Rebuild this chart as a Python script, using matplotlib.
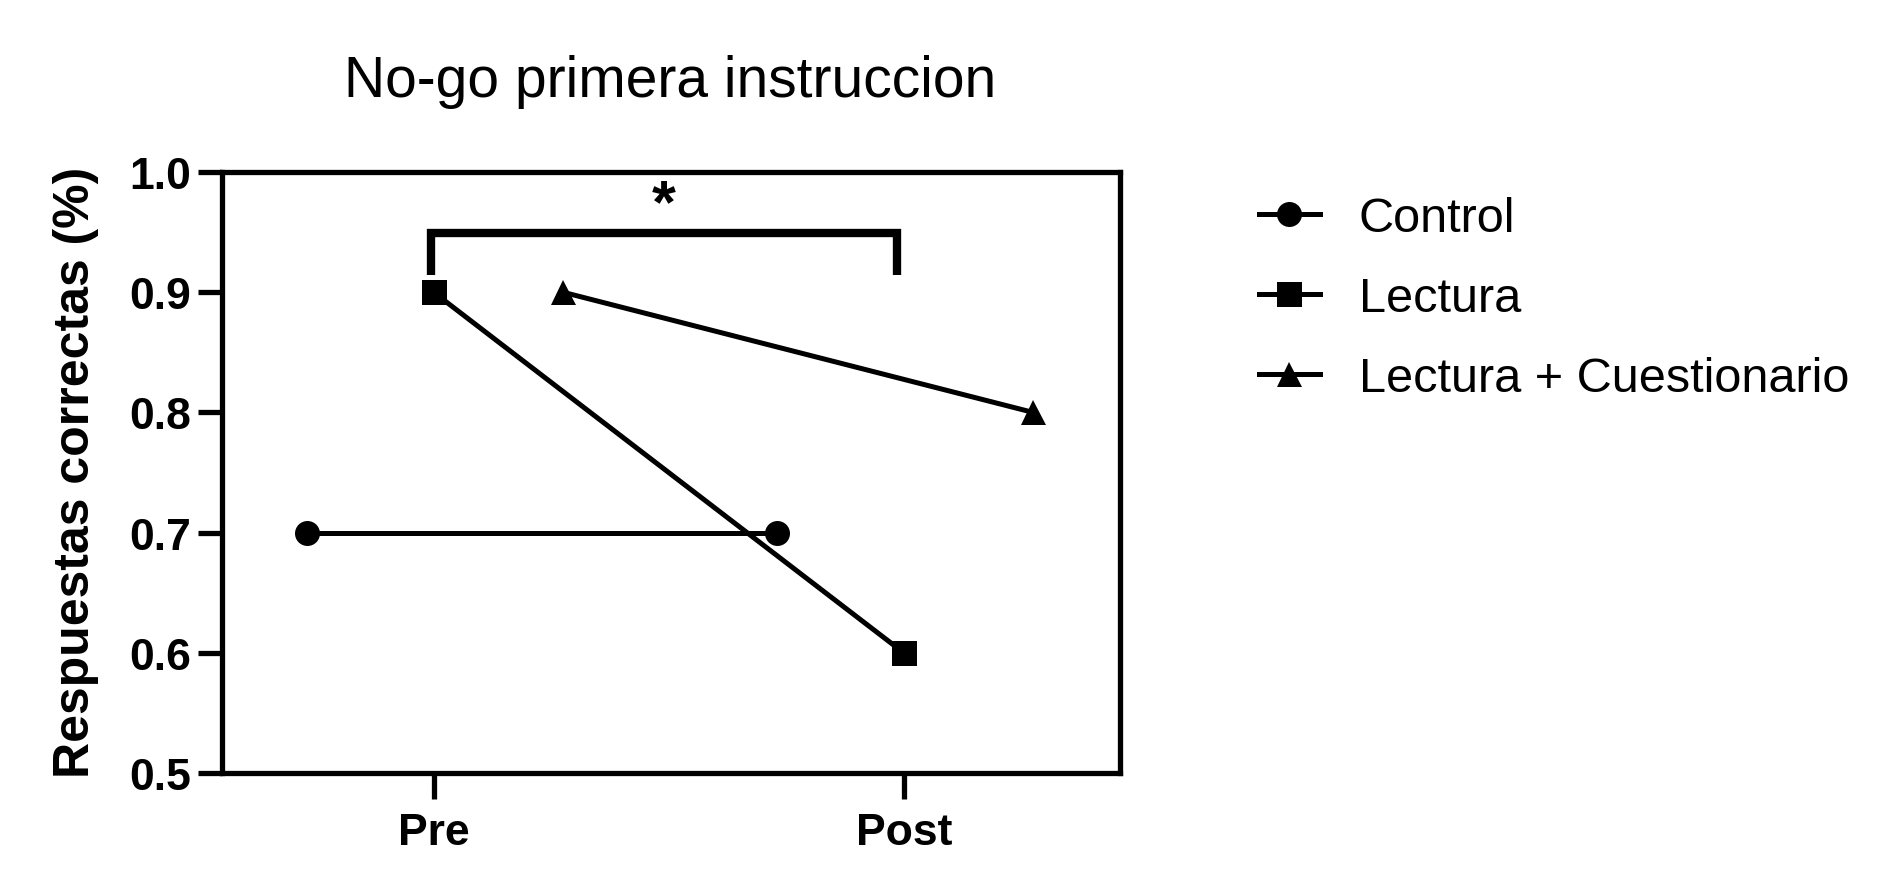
import matplotlib
matplotlib.use("Agg")
import matplotlib.pyplot as plt
import numpy as np

# ---- data ----
timepoints = ["Pre", "Post"]
groups = ["Control", "Lectura", "Lectura + Cuestionario"]
control = [0.7, 0.7]
lectura = [0.9, 0.6]
lectura_cuest = [0.9, 0.8]
yticks = [0.5, 0.6, 0.7, 0.8, 0.9, 1.0]
title = "No-go primera instruccion"
ylabel = "Respuestas correctas (%)"

plt.rcParams['font.family'] = ['Liberation Sans', 'DejaVu Sans']

fig = plt.figure(figsize=(19.01, 8.95), dpi=100)
ax = fig.add_axes([222/1901, 1-774/895, (1120-222)/1901, (774-173)/895])

x = np.arange(len(timepoints))
offsets = [-0.27, 0.0, 0.275]
markers = ['o', 's', '^']
series = [control, lectura, lectura_cuest]
for vals, off, mk, name in zip(series, offsets, markers, groups):
    ax.plot(x + off, vals, color='black', lw=3.6, marker=mk, markersize=18,
            markeredgewidth=0, label=name, clip_on=False, zorder=3)

ax.set_xlim(-0.45, 1.46)
ax.set_ylim(0.5, 1.0)
ax.set_yticks(yticks)
ax.set_yticklabels([f"{v:.1f}" for v in yticks])
ax.set_xticks(x)
ax.set_xticklabels(timepoints)
for s in ax.spines.values():
    s.set_linewidth(3.8)
ax.tick_params(axis='y', direction='out', length=17, width=3.8, pad=5,
               labelsize=32)
ax.tick_params(axis='x', direction='out', length=19, width=3.8, pad=9,
               labelsize=32)
for lab in ax.get_xticklabels() + ax.get_yticklabels():
    lab.set_fontweight('bold')

# significance bracket
ax.plot([-0.006, -0.006, 0.985, 0.985], [0.914, 0.949, 0.949, 0.914],
        color='black', lw=6, solid_joinstyle='miter', solid_capstyle='butt',
        clip_on=False, zorder=4)
ax.text(0.49, 0.972, "*", ha='center', va='center', fontsize=44,
        fontweight='bold')

fig.text(670/1901, 1-97/895, title, ha='center', va='baseline', fontsize=41)
fig.text(76/1901, 1-472/895, ylabel, ha='center', va='center', rotation=90,
         fontsize=36, fontweight='bold')

leg = ax.legend(loc='upper left', bbox_to_anchor=(1259/1901, 1-197/895),
                bbox_transform=fig.transFigure, frameon=False, fontsize=35,
                handlelength=1.25, handletextpad=0.8, labelspacing=0.72,
                borderpad=0, borderaxespad=0)

fig.savefig("out.png", dpi=100)
